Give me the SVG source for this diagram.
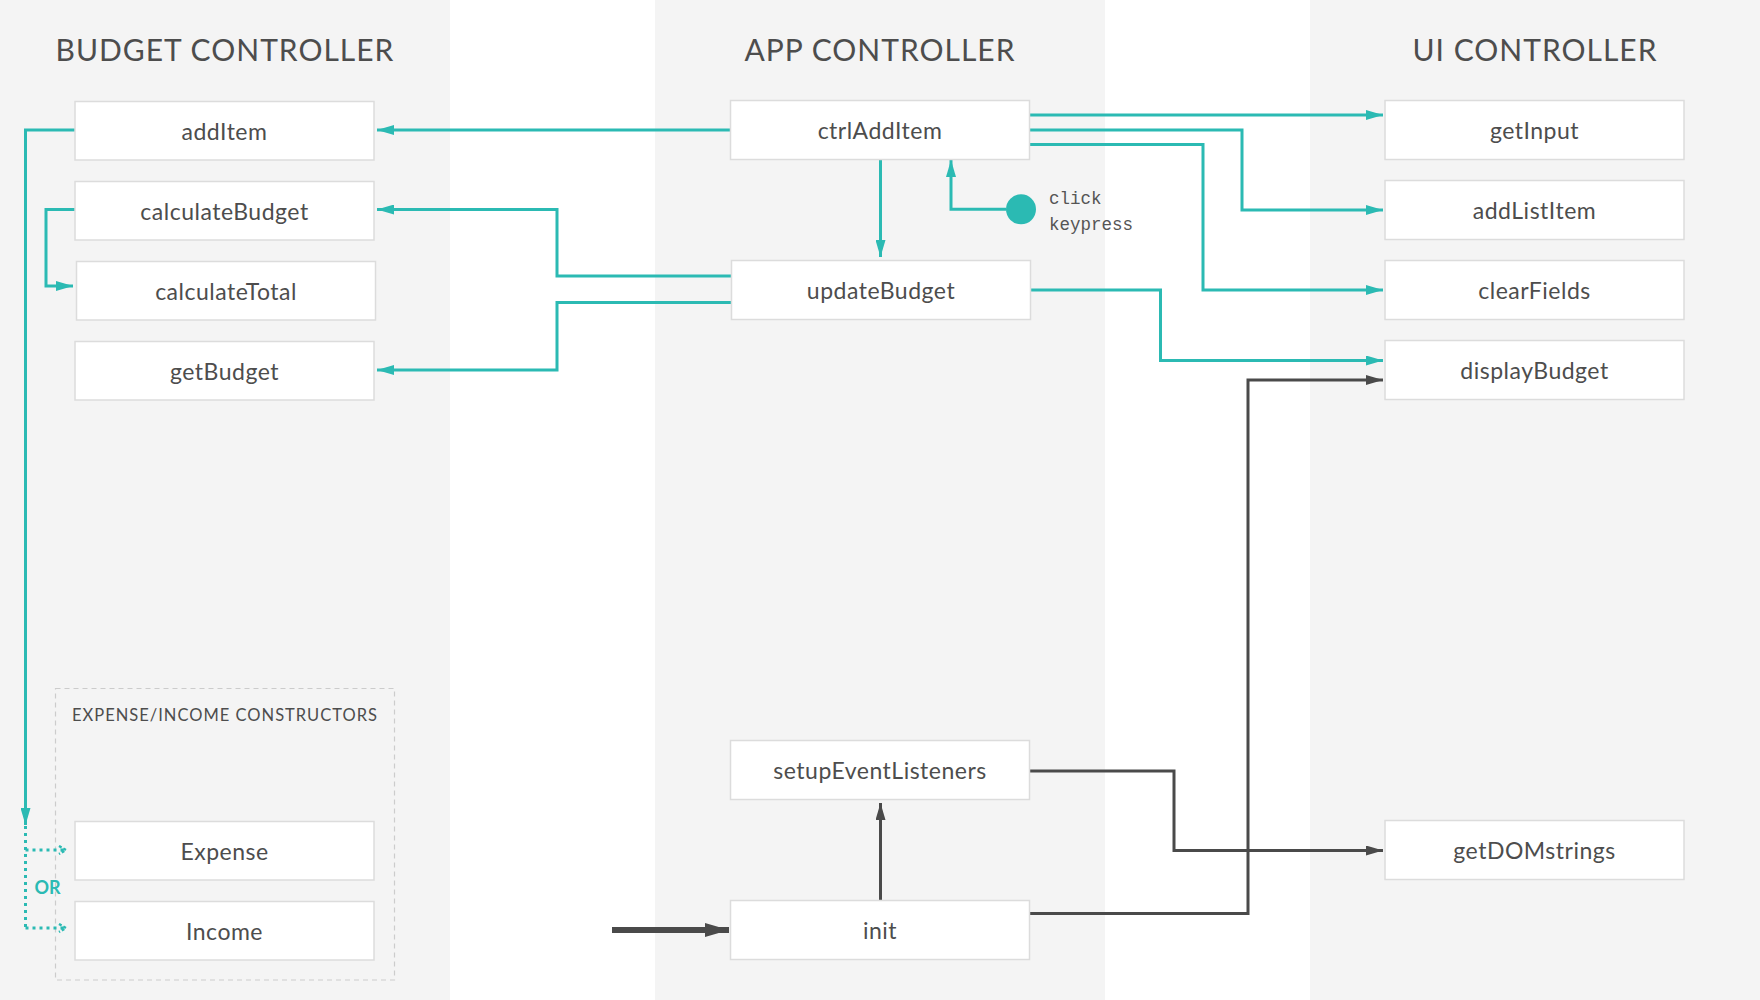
<svg xmlns="http://www.w3.org/2000/svg" width="1760" height="1000" viewBox="0 0 1760 1000">
  <style>
    .panel { fill: #f4f4f4; }
    .title { font-family: Lato, "Liberation Sans", sans-serif; font-size: 30px; letter-spacing: 1px; fill: #4d4d4d; text-anchor: middle; }
    .box { fill: #ffffff; stroke: #dcdcdc; stroke-width: 1.5; }
    .label { font-family: Lato, "Liberation Sans", sans-serif; font-size: 23px; letter-spacing: 0.5px; fill: #4d4d4d; text-anchor: middle; }
    .teal { fill: none; stroke: #2bbab3; stroke-width: 3; marker-end: url(#arrT); }
    .dark { fill: none; stroke: #4a4a4a; stroke-width: 3; marker-end: url(#arrD); }
    .dot { fill: none; stroke: #2bbab3; stroke-width: 3; stroke-dasharray: 3 4; }
    .mono { font-family: "Liberation Mono", "DejaVu Sans Mono", monospace; font-size: 17.5px; fill: #555555; }
  </style>
  <defs>
    <marker id="arrT" markerUnits="userSpaceOnUse" markerWidth="17" markerHeight="10" refX="17" refY="5" orient="auto">
      <path d="M0,0 L17,5 L0,10 z" fill="#2bbab3"/>
    </marker>
    <marker id="arrD" markerUnits="userSpaceOnUse" markerWidth="17" markerHeight="10" refX="17" refY="5" orient="auto">
      <path d="M0,0 L17,5 L0,10 z" fill="#4a4a4a"/>
    </marker>
    <marker id="arrBig" markerUnits="userSpaceOnUse" markerWidth="24" markerHeight="14" refX="24" refY="7" orient="auto">
      <path d="M0,0 L24,7 L0,14 z" fill="#4a4a4a"/>
    </marker>
    <marker id="arrDot" markerUnits="userSpaceOnUse" markerWidth="10" markerHeight="10" refX="8" refY="5" orient="auto">
      <path d="M1,1 L8,5 L1,9" fill="none" stroke="#2bbab3" stroke-width="2.5" stroke-dasharray="3 2"/>
    </marker>
  </defs>

  <g id="panels">
    <rect class="panel" x="0" y="0" width="450" height="1000"/>
    <rect class="panel" x="655" y="0" width="450" height="1000"/>
    <rect class="panel" x="1310" y="0" width="450" height="1000"/>
    <text class="title" x="225" y="61">BUDGET CONTROLLER</text>
    <text class="title" x="880" y="61">APP CONTROLLER</text>
    <text class="title" x="1535" y="61">UI CONTROLLER</text>
  </g>

  <g id="constructors">
    <rect x="55.5" y="688.5" width="339" height="291.5" fill="none" stroke="#cccccc" stroke-width="1.2" stroke-dasharray="5 4"/>
    <text x="225" y="721" font-family="Lato, 'Liberation Sans', sans-serif" font-size="16.5" fill="#4d4d4d" text-anchor="middle" letter-spacing="1">EXPENSE/INCOME CONSTRUCTORS</text>
  </g>

  <g id="connectors">
    <path class="teal" d="M730,130 H377"/>
    <path class="teal" d="M75,209.5 H46 V286 H73"/>
    <path class="teal" d="M75,130 H25.5 V825"/>
    <path class="dot" d="M25.5,826 V928"/>
    <path class="dot" d="M25.5,850 H66" marker-end="url(#arrDot)"/>
    <path class="dot" d="M25.5,928 H66" marker-end="url(#arrDot)"/>
    <path class="teal" d="M731,276 H557 V209.5 H377"/>
    <path class="teal" d="M731,302.5 H557 V370 H377"/>
    <path class="teal" d="M880.5,159.5 V257"/>
    <path class="teal" d="M1006,209.3 H951 V160"/>
    <path class="teal" d="M1030,115 H1383"/>
    <path class="teal" d="M1030,130 H1242 V210 H1383"/>
    <path class="teal" d="M1030,144.5 H1203 V290 H1383"/>
    <path class="teal" d="M1031,290 H1160.5 V360.5 H1383"/>
    <path class="dark" d="M1030,913.5 H1248 V380 H1383"/>
    <path class="dark" d="M1030,771 H1174 V850.5 H1383"/>
    <path class="dark" d="M880.5,900 V803"/>
    <path d="M612,930 H729" fill="none" stroke="#4a4a4a" stroke-width="6" marker-end="url(#arrBig)"/>
    <circle cx="1021" cy="209.3" r="15" fill="#2bbab3"/>
    <text class="mono" x="1049" y="204">click</text>
    <text class="mono" x="1049" y="230">keypress</text>
    <text x="47.5" y="894" font-family="Lato, 'Liberation Sans', sans-serif" font-size="18" font-weight="bold" fill="#2bbab3" text-anchor="middle">OR</text>
  </g>

  <g id="addItem"><rect class="box" x="75" y="101.5" width="299" height="58.5"/><text class="label" x="224.5" y="139.5">addItem</text></g>
  <g id="calculateBudget"><rect class="box" x="75" y="181.5" width="299" height="58.5"/><text class="label" x="224.5" y="219.5">calculateBudget</text></g>
  <g id="calculateTotal"><rect class="box" x="76.5" y="261.5" width="299" height="58.5"/><text class="label" x="226" y="299.5">calculateTotal</text></g>
  <g id="getBudget"><rect class="box" x="75" y="341.5" width="299" height="58.5"/><text class="label" x="224.5" y="379.5">getBudget</text></g>
  <g id="Expense"><rect class="box" x="75" y="821.5" width="299" height="58.5"/><text class="label" x="224.5" y="859.5">Expense</text></g>
  <g id="Income"><rect class="box" x="75" y="901.5" width="299" height="58.5"/><text class="label" x="224.5" y="939.5">Income</text></g>

  <g id="ctrlAddItem"><rect class="box" x="730.5" y="100.5" width="299" height="59"/><text class="label" x="880" y="138.5">ctrlAddItem</text></g>
  <g id="updateBudget"><rect class="box" x="731.5" y="260.5" width="299" height="59"/><text class="label" x="881" y="298.5">updateBudget</text></g>
  <g id="setupEventListeners"><rect class="box" x="730.5" y="740.5" width="299" height="59"/><text class="label" x="880" y="778.5">setupEventListeners</text></g>
  <g id="init"><rect class="box" x="730.5" y="900.5" width="299" height="59"/><text class="label" x="880" y="938.5">init</text></g>

  <g id="getInput"><rect class="box" x="1385" y="100.5" width="299" height="59"/><text class="label" x="1534.5" y="138.5">getInput</text></g>
  <g id="addListItem"><rect class="box" x="1385" y="180.5" width="299" height="59"/><text class="label" x="1534.5" y="218.5">addListItem</text></g>
  <g id="clearFields"><rect class="box" x="1385" y="260.5" width="299" height="59"/><text class="label" x="1534.5" y="298.5">clearFields</text></g>
  <g id="displayBudget"><rect class="box" x="1385" y="340.5" width="299" height="59"/><text class="label" x="1534.5" y="378.5">displayBudget</text></g>
  <g id="getDOMstrings"><rect class="box" x="1385" y="820.5" width="299" height="59"/><text class="label" x="1534.5" y="858.5">getDOMstrings</text></g>
</svg>
